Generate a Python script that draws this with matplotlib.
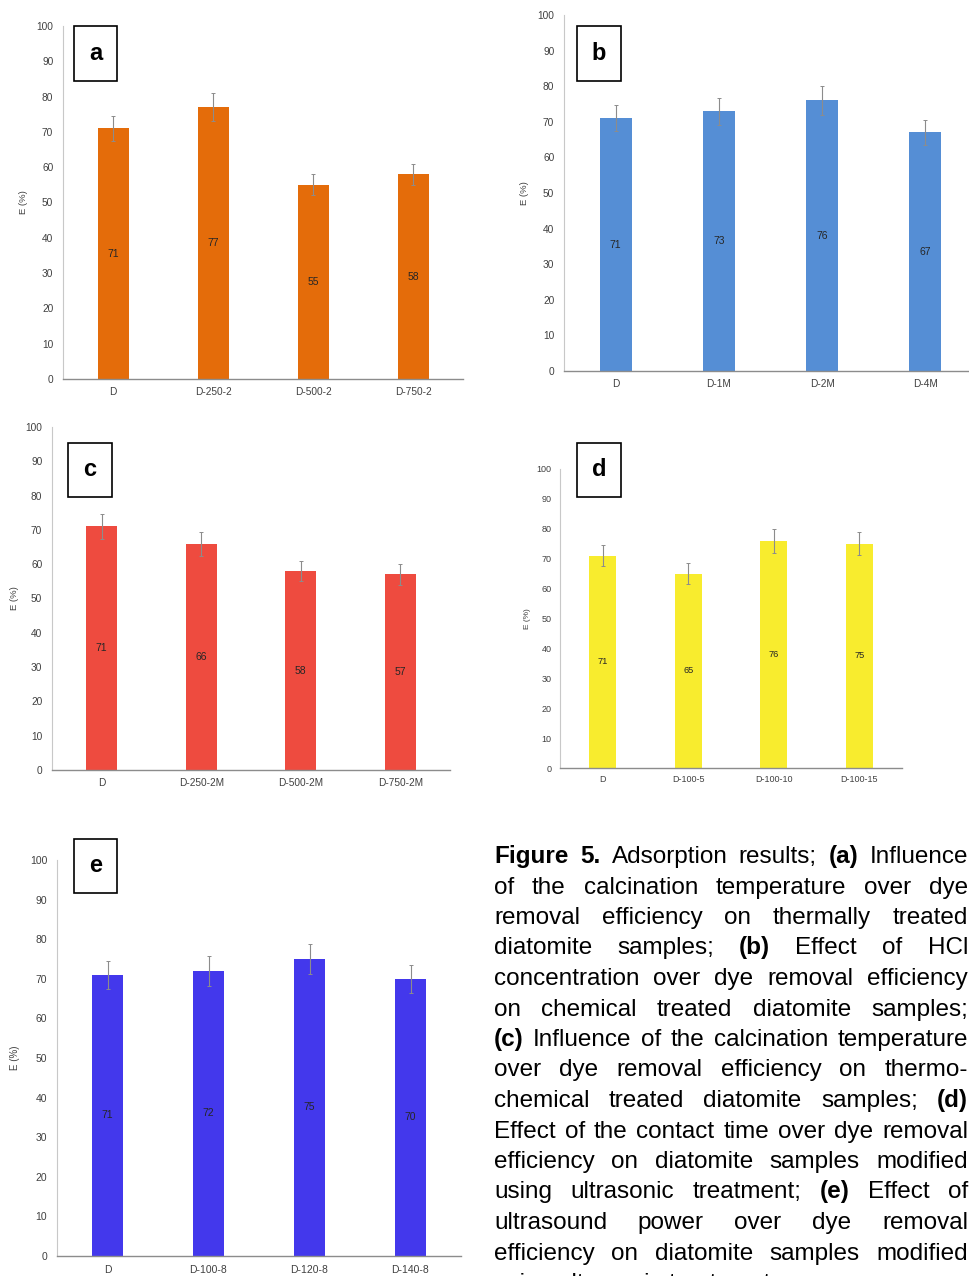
import matplotlib
matplotlib.use("Agg")
import matplotlib.pyplot as plt
from matplotlib.patches import Rectangle

W, H, DPI = 970, 1276, 100
plt.rcParams['font.family'] = ['Liberation Sans', 'DejaVu Sans']

# ---- data -------------------------------------------------------------
cats_a = ["D", "D-250-2", "D-500-2", "D-750-2"]
eff_a = [71, 77, 55, 58]
err_a = [3.5, 4.0, 3.0, 3.0]

cats_b = ["D", "D-1M", "D-2M", "D-4M"]
eff_b = [71, 73, 76, 67]
err_b = [3.6, 3.8, 4.0, 3.4]

cats_c = ["D", "D-250-2M", "D-500-2M", "D-750-2M"]
eff_c = [71, 66, 58, 57]
err_c = [3.6, 3.5, 3.0, 3.0]

cats_d = ["D", "D-100-5", "D-100-10", "D-100-15"]
eff_d = [71, 65, 76, 75]
err_d = [3.6, 3.4, 4.0, 3.9]

cats_e = ["D", "D-100-8", "D-120-8", "D-140-8"]
eff_e = [71, 72, 75, 70]
err_e = [3.6, 3.7, 3.9, 3.5]

y_ticks = list(range(0, 101, 10))
y_label = "E (%)"

fig = plt.figure(figsize=(W / DPI, H / DPI), dpi=DPI)


def px_axes(left, top, right, bottom):
    return fig.add_axes([left / W, 1 - bottom / H, (right - left) / W, (bottom - top) / H])


def panel(frame, cats, vals, errs, color, letter, box, fs_tick, fs_val,
          ylab_px, xpad, ypad):
    left, top, right, bottom = frame
    ax = px_axes(*frame)
    x = list(range(len(cats)))
    ax.bar(x, vals, width=0.31, color=color, zorder=2)
    ax.errorbar(x, vals, yerr=errs, fmt='none', ecolor='#8C8C8C',
                elinewidth=0.8, capsize=1.2, capthick=0.7, zorder=3)
    for xi, v in zip(x, vals):
        ax.text(xi, v / 2, str(v), ha='center', va='center',
                fontsize=fs_val, color='#262626', zorder=4)
    ax.set_xlim(-0.5, len(cats) - 0.5)
    ax.set_ylim(0, 100)
    ax.set_yticks(y_ticks)
    ax.set_xticks(x, cats)
    ax.tick_params(axis='both', length=0, labelsize=fs_tick, colors='#404040')
    ax.tick_params(axis='x', pad=xpad)
    ax.tick_params(axis='y', pad=ypad)
    for s in ('top', 'right'):
        ax.spines[s].set_visible(False)
    ax.spines['left'].set_color('#C8C8C8')
    ax.spines['left'].set_linewidth(0.8)
    ax.spines['bottom'].set_color('#8C8C8C')
    ax.spines['bottom'].set_linewidth(1.0)
    ax.set_ylabel(y_label, fontsize=fs_tick - 0.5, color='#404040')
    # label anchor is the right edge of the rotated text
    ax.yaxis.set_label_coords((ylab_px + 4 - left) / (right - left), 0.5)

    # boxed panel letter
    bx0, by0, bx1, by1 = box
    fig.add_artist(Rectangle((bx0 / W, 1 - by1 / H), (bx1 - bx0) / W, (by1 - by0) / H,
                             transform=fig.transFigure, fill=False,
                             edgecolor='black', linewidth=1.2))
    fig.text((bx0 + bx1) / 2 / W, 1 - (by0 + by1) / 2 / H, letter,
             ha='center', va='center', fontsize=17, fontweight='bold', color='black')
    return ax


panel((63, 26, 463, 379), cats_a, eff_a, err_a, '#E46C0A', 'a',
      (74, 26, 117, 81), 7.3, 7.5, 24, 6, 7)
panel((564, 15, 977, 371), cats_b, eff_b, err_b, '#558ED5', 'b',
      (577, 26, 621, 81), 7.3, 7.5, 525, 6, 7)
panel((52, 427, 450, 770), cats_c, eff_c, err_c, '#EE4B3F', 'c',
      (68, 443, 112, 497), 7.3, 7.5, 15, 6, 7)
panel((560, 469, 902, 768), cats_d, eff_d, err_d, '#F8EC2E', 'd',
      (577, 443, 621, 497), 6.5, 6.7, 527, 5, 6)
panel((57, 860, 461, 1256), cats_e, eff_e, err_e, '#4338EC', 'e',
      (74, 839, 117, 893), 7.5, 7.5, 16, 6.5, 7)

# ---- justified caption -------------------------------------------------
# words prefixed with '*' are set in bold
caption_lines = [
    "*Figure *5. Adsorption results; *(a) Influence",
    "of the calcination temperature over dye",
    "removal efficiency on thermally treated",
    "diatomite samples; *(b) Effect of HCl",
    "concentration over dye removal efficiency",
    "on chemical treated diatomite samples;",
    "*(c) Influence of the calcination temperature",
    "over dye removal efficiency on thermo-",
    "chemical treated diatomite samples; *(d)",
    "Effect of the contact time over dye removal",
    "efficiency on diatomite samples modified",
    "using ultrasonic treatment; *(e) Effect of",
    "ultrasound power over dye removal",
    "efficiency on diatomite samples modified",
    "using ultrasonic treatment.",
]

cap_left, cap_right = 494, 968
cap_base0, cap_step = 863, 30.5
cap_fs = 17.5

renderer = fig.canvas.get_renderer()


def word_width(word, bold, fs):
    t = fig.text(0, 0, word, fontsize=fs, fontweight='bold' if bold else 'normal')
    w = t.get_window_extent(renderer).width
    t.remove()
    return w


for i, line in enumerate(caption_lines):
    words = [(w[1:], True) if w.startswith('*') else (w, False) for w in line.split()]
    base = round(cap_base0 + i * cap_step)
    fs = cap_fs
    widths = [word_width(w, b, fs) for w, b in words]
    space = word_width("a b", False, fs) - word_width("ab", False, fs)
    last = i == len(caption_lines) - 1
    total = sum(widths)
    target = cap_right - cap_left
    if not last and total + space * 0.6 * (len(words) - 1) > target:
        fs = fs * target / (total + space * 0.6 * (len(words) - 1))
        widths = [word_width(w, b, fs) for w, b in words]
        total = sum(widths)
    if last or len(words) == 1:
        gap = space
    else:
        gap = (target - total) / (len(words) - 1)
    xpos = cap_left
    for (w, b), wd in zip(words, widths):
        fig.text(xpos / W, 1 - base / H, w, fontsize=fs,
                 fontweight='bold' if b else 'normal', color='black',
                 ha='left', va='baseline')
        xpos += wd + gap

fig.savefig("out.png", dpi=DPI)
